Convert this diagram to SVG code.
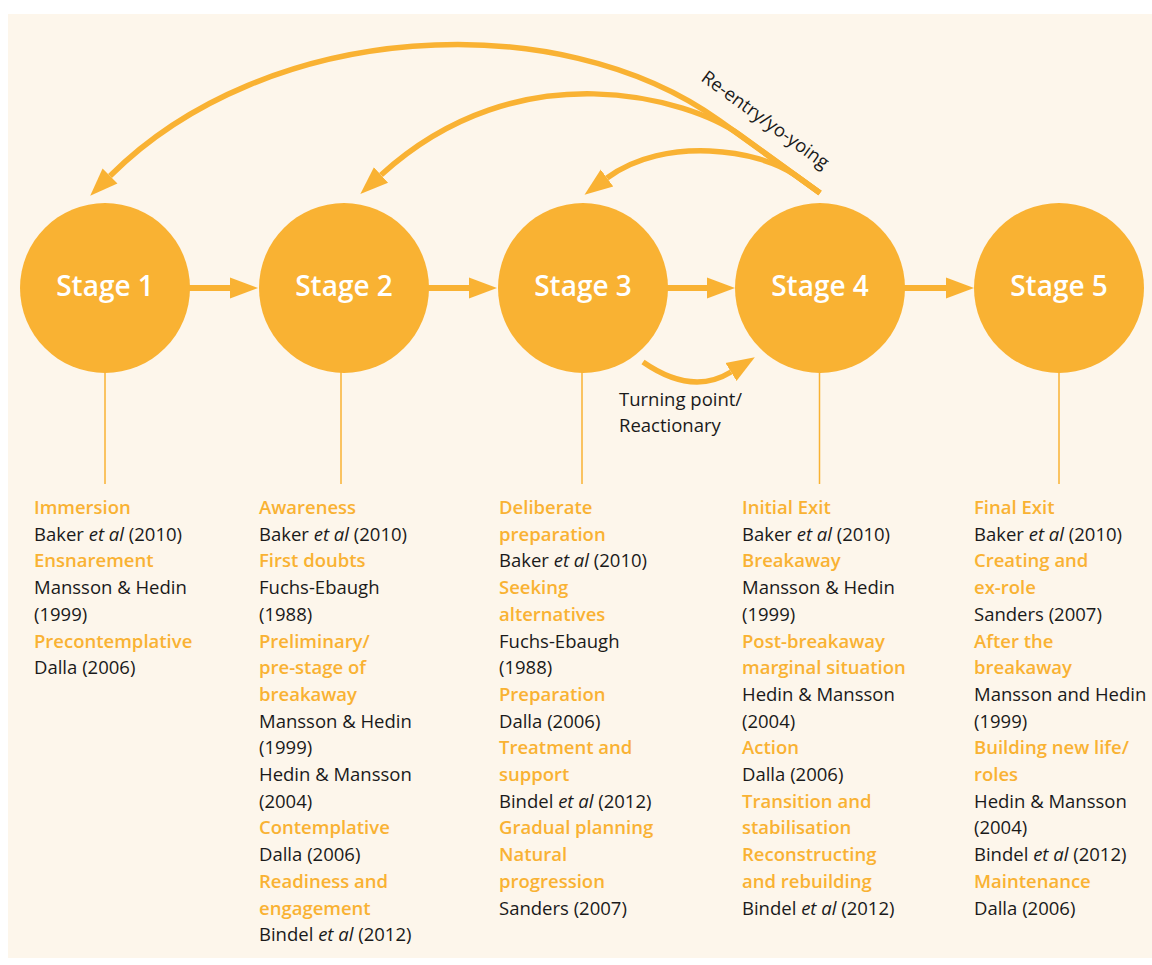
<svg xmlns="http://www.w3.org/2000/svg" width="1152" height="965" viewBox="0 0 1152 965">
<style>
.bg{fill:#fdf6eb}
.node{fill:#f9b233}
.stage{font-family:"Open Sans","Noto Sans",sans-serif;font-weight:600;font-size:28px;fill:#ffffff;text-anchor:middle}
.conn{fill:none;stroke:#f9b233;stroke-width:6}
.curve{fill:none;stroke:#f9b233;stroke-width:5.5}
.stem{stroke:#f9b233;stroke-width:1.5}
.txt{font-family:"Open Sans","Noto Sans",sans-serif;font-size:18.5px;fill:#1a1a1a}
.o{font-weight:600;fill:#f9b233}
.i{font-style:italic}
.lbl{font-family:"Open Sans","Noto Sans",sans-serif;font-size:18.5px;fill:#1a1a1a}
</style>
<defs>
<marker id="ah" markerUnits="userSpaceOnUse" markerWidth="30" markerHeight="24" viewBox="0 -12 30 24" refX="0" refY="0" orient="auto">
<path d="M0,-10.5 L28,0 L0,10.5 z" fill="#f9b233"/>
</marker>
</defs>
<rect class="bg" x="8" y="14" width="1144" height="944"/>
<g id="connectors">
<line class="conn" x1="188" y1="288" x2="230" y2="288" marker-end="url(#ah)"/>
<line class="conn" x1="427" y1="288" x2="469" y2="288" marker-end="url(#ah)"/>
<line class="conn" x1="666" y1="288" x2="707" y2="288" marker-end="url(#ah)"/>
<line class="conn" x1="903" y1="288" x2="946" y2="288" marker-end="url(#ah)"/>
<path class="curve" d="M820,193 L720,121 C558,4 265.5,20.5 110,176" marker-end="url(#ah)"/>
<path class="curve" d="M820,193 L740,135 C690,99 520,48 381,175" marker-end="url(#ah)"/>
<path class="curve" d="M820,193 L795,175 C760,150 665,135 607,178" marker-end="url(#ah)"/>
<path class="curve" d="M643,362 Q692,396 731,372" marker-end="url(#ah)"/>
<line class="stem" x1="105" y1="372" x2="105" y2="484"/>
<line class="stem" x1="341" y1="372" x2="341" y2="484"/>
<line class="stem" x1="582" y1="372" x2="582" y2="484"/>
<line class="stem" x1="819.5" y1="372" x2="819.5" y2="484"/>
<line class="stem" x1="1059" y1="372" x2="1059" y2="484"/>
<text class="lbl" transform="translate(700,80) rotate(36)">Re-entry/yo-yoing</text>
<text class="lbl" x="619" y="406">Turning point/</text>
<text class="lbl" x="619" y="432">Reactionary</text>
</g>
<g id="stage1"><circle class="node" cx="105" cy="288" r="85"/><text class="stage" x="105" y="296">Stage 1</text></g>
<g id="stage2"><circle class="node" cx="344" cy="288" r="85"/><text class="stage" x="344" y="296">Stage 2</text></g>
<g id="stage3"><circle class="node" cx="583" cy="288" r="85"/><text class="stage" x="583" y="296">Stage 3</text></g>
<g id="stage4"><circle class="node" cx="820" cy="288" r="85"/><text class="stage" x="820" y="296">Stage 4</text></g>
<g id="stage5"><circle class="node" cx="1059" cy="288" r="85"/><text class="stage" x="1059" y="296">Stage 5</text></g>
<g id="col1">
<text class="txt" y="514">
<tspan class="o" x="34" dy="0">Immersion</tspan>
<tspan x="34" dy="26.7">Baker <tspan class="i">et al</tspan> (2010)</tspan>
<tspan class="o" x="34" dy="26.7">Ensnarement</tspan>
<tspan x="34" dy="26.7">Mansson &amp; Hedin</tspan>
<tspan x="34" dy="26.7">(1999)</tspan>
<tspan class="o" x="34" dy="26.7">Precontemplative</tspan>
<tspan x="34" dy="26.7">Dalla (2006)</tspan>
</text>
</g>
<g id="col2">
<text class="txt" y="514">
<tspan class="o" x="259" dy="0">Awareness</tspan>
<tspan x="259" dy="26.7">Baker <tspan class="i">et al</tspan> (2010)</tspan>
<tspan class="o" x="259" dy="26.7">First doubts</tspan>
<tspan x="259" dy="26.7">Fuchs-Ebaugh</tspan>
<tspan x="259" dy="26.7">(1988)</tspan>
<tspan class="o" x="259" dy="26.7">Preliminary/</tspan>
<tspan class="o" x="259" dy="26.7">pre-stage of</tspan>
<tspan class="o" x="259" dy="26.7">breakaway</tspan>
<tspan x="259" dy="26.7">Mansson &amp; Hedin</tspan>
<tspan x="259" dy="26.7">(1999)</tspan>
<tspan x="259" dy="26.7">Hedin &amp; Mansson</tspan>
<tspan x="259" dy="26.7">(2004)</tspan>
<tspan class="o" x="259" dy="26.7">Contemplative</tspan>
<tspan x="259" dy="26.7">Dalla (2006)</tspan>
<tspan class="o" x="259" dy="26.7">Readiness and</tspan>
<tspan class="o" x="259" dy="26.7">engagement</tspan>
<tspan x="259" dy="26.7">Bindel <tspan class="i">et al</tspan> (2012)</tspan>
</text>
</g>
<g id="col3">
<text class="txt" y="514">
<tspan class="o" x="499" dy="0">Deliberate</tspan>
<tspan class="o" x="499" dy="26.7">preparation</tspan>
<tspan x="499" dy="26.7">Baker <tspan class="i">et al</tspan> (2010)</tspan>
<tspan class="o" x="499" dy="26.7">Seeking</tspan>
<tspan class="o" x="499" dy="26.7">alternatives</tspan>
<tspan x="499" dy="26.7">Fuchs-Ebaugh</tspan>
<tspan x="499" dy="26.7">(1988)</tspan>
<tspan class="o" x="499" dy="26.7">Preparation</tspan>
<tspan x="499" dy="26.7">Dalla (2006)</tspan>
<tspan class="o" x="499" dy="26.7">Treatment and</tspan>
<tspan class="o" x="499" dy="26.7">support</tspan>
<tspan x="499" dy="26.7">Bindel <tspan class="i">et al</tspan> (2012)</tspan>
<tspan class="o" x="499" dy="26.7">Gradual planning</tspan>
<tspan class="o" x="499" dy="26.7">Natural</tspan>
<tspan class="o" x="499" dy="26.7">progression</tspan>
<tspan x="499" dy="26.7">Sanders (2007)</tspan>
</text>
</g>
<g id="col4">
<text class="txt" y="514">
<tspan class="o" x="742" dy="0">Initial Exit</tspan>
<tspan x="742" dy="26.7">Baker <tspan class="i">et al</tspan> (2010)</tspan>
<tspan class="o" x="742" dy="26.7">Breakaway</tspan>
<tspan x="742" dy="26.7">Mansson &amp; Hedin</tspan>
<tspan x="742" dy="26.7">(1999)</tspan>
<tspan class="o" x="742" dy="26.7">Post-breakaway</tspan>
<tspan class="o" x="742" dy="26.7">marginal situation</tspan>
<tspan x="742" dy="26.7">Hedin &amp; Mansson</tspan>
<tspan x="742" dy="26.7">(2004)</tspan>
<tspan class="o" x="742" dy="26.7">Action</tspan>
<tspan x="742" dy="26.7">Dalla (2006)</tspan>
<tspan class="o" x="742" dy="26.7">Transition and</tspan>
<tspan class="o" x="742" dy="26.7">stabilisation</tspan>
<tspan class="o" x="742" dy="26.7">Reconstructing</tspan>
<tspan class="o" x="742" dy="26.7">and rebuilding</tspan>
<tspan x="742" dy="26.7">Bindel <tspan class="i">et al</tspan> (2012)</tspan>
</text>
</g>
<g id="col5">
<text class="txt" y="514">
<tspan class="o" x="974" dy="0">Final Exit</tspan>
<tspan x="974" dy="26.7">Baker <tspan class="i">et al</tspan> (2010)</tspan>
<tspan class="o" x="974" dy="26.7">Creating and</tspan>
<tspan class="o" x="974" dy="26.7">ex-role</tspan>
<tspan x="974" dy="26.7">Sanders (2007)</tspan>
<tspan class="o" x="974" dy="26.7">After the</tspan>
<tspan class="o" x="974" dy="26.7">breakaway</tspan>
<tspan x="974" dy="26.7">Mansson and Hedin</tspan>
<tspan x="974" dy="26.7">(1999)</tspan>
<tspan class="o" x="974" dy="26.7">Building new life/</tspan>
<tspan class="o" x="974" dy="26.7">roles</tspan>
<tspan x="974" dy="26.7">Hedin &amp; Mansson</tspan>
<tspan x="974" dy="26.7">(2004)</tspan>
<tspan x="974" dy="26.7">Bindel <tspan class="i">et al</tspan> (2012)</tspan>
<tspan class="o" x="974" dy="26.7">Maintenance</tspan>
<tspan x="974" dy="26.7">Dalla (2006)</tspan>
</text>
</g>
</svg>
